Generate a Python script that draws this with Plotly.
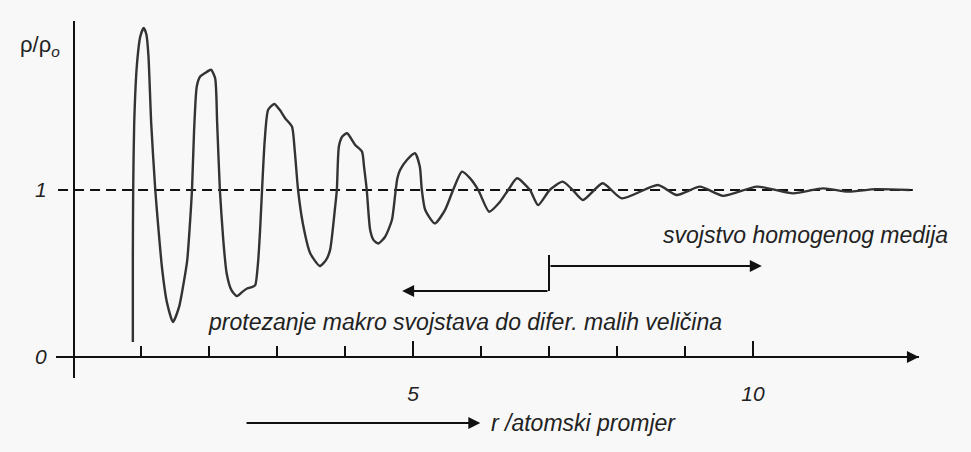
import plotly.graph_objects as go

# density profile rho/rho0 versus r (atomic diameters)
r_vals = [0.88, 0.88, 0.885, 0.90, 0.94, 0.99, 1.04, 1.08, 1.11, 1.15, 1.21,
          1.26, 1.31, 1.38, 1.47, 1.56, 1.63, 1.68, 1.72, 1.75, 1.78, 1.82,
          1.87, 1.94, 2.03, 2.09, 2.12, 2.16, 2.21, 2.26, 2.33, 2.41, 2.49,
          2.56, 2.64, 2.68, 2.72, 2.75, 2.78, 2.82, 2.87, 2.96, 3.04, 3.12,
          3.22, 3.26, 3.31, 3.38, 3.49, 3.63, 3.72, 3.78, 3.85, 3.88, 3.91,
          3.96, 4.03, 4.15, 4.25, 4.28, 4.32, 4.37, 4.42, 4.49, 4.59, 4.69,
          4.74, 4.77, 4.81, 4.91, 5.03, 5.10, 5.13, 5.18, 5.32, 5.47, 5.59,
          5.72, 5.84, 5.96, 6.12, 6.28, 6.40, 6.53, 6.72, 6.84, 7.01, 7.20,
          7.35, 7.50, 7.79, 8.07, 8.60, 8.88, 9.22, 9.56, 10.06, 10.59,
          11.03, 11.40, 11.80, 12.30]
rho_vals = [0.09, 0.60, 1.00, 1.40, 1.75, 1.92, 1.97, 1.93, 1.80, 1.40, 1.00,
            0.75, 0.53, 0.33, 0.21, 0.30, 0.45, 0.58, 0.80, 1.00, 1.35, 1.62,
            1.68, 1.70, 1.72, 1.67, 1.40, 1.00, 0.70, 0.50, 0.40, 0.365, 0.39,
            0.41, 0.42, 0.43, 0.56, 0.75, 1.00, 1.30, 1.48, 1.515, 1.48, 1.43,
            1.38, 1.24, 1.00, 0.80, 0.62, 0.545, 0.58, 0.64, 0.88, 1.00, 1.26,
            1.32, 1.34, 1.27, 1.23, 1.14, 1.00, 0.76, 0.70, 0.68, 0.72, 0.82,
            0.98, 1.07, 1.12, 1.18, 1.22, 1.14, 1.00, 0.88, 0.80, 0.88, 1.00,
            1.11, 1.07, 1.00, 0.87, 0.93, 1.00, 1.07, 1.00, 0.91, 1.00, 1.05,
            1.00, 0.94, 1.04, 0.95, 1.03, 0.97, 1.02, 0.965, 1.02, 0.98,
            1.01, 0.99, 1.005, 1.00]

# homogeneous-medium reference level
ref_x = [-0.22, 12.35]
ref_y = [1, 1]

x_major = [5, 10]
x_major_text = ["5", "10"]
x_minor = [1, 2, 3, 4, 5, 6, 7, 8, 9, 10]
y_ticks = [0, 1]
y_tick_text = ["0", "1"]

W, H = 971, 452
INK = "#111111"
FONT = "Liberation Sans, Arial, sans-serif"

fig = go.Figure()
fig.add_trace(go.Scatter(x=ref_x, y=ref_y, mode="lines",
                         line=dict(color=INK, width=2, dash="10px,6px"),
                         hoverinfo="skip"))
fig.add_trace(go.Scatter(x=r_vals, y=rho_vals, mode="lines",
                         line=dict(color="#333333", width=2.4, shape="spline", smoothing=0.6),
                         hoverinfo="skip"))

txt = dict(family=FONT, size=23, color="#222222", style="italic")
tick_txt = dict(family=FONT, size=21, color="#222222", style="italic")
arrow = dict(showarrow=True, arrowhead=2, arrowsize=1.2, arrowwidth=2,
             arrowcolor=INK, text="")

annotations = [
    # axis arrowheads
    dict(x=0, y=2.012, xref="x", yref="y", ax=0, ay=14, **arrow),
    dict(x=12.44, y=0, xref="x", yref="y", ax=-14, ay=0, **arrow),
    # bracket arrows
    dict(x=10.13, y=0.545, xref="x", yref="y", ax=7.0, axref="x", ay=0, **arrow),
    dict(x=4.84, y=0.395, xref="x", yref="y", ax=7.0, axref="x", ay=0, **arrow),
    # r arrow under the axis
    dict(x=5.99, y=(H - 423) / H, xref="x", yref="paper", ax=2.53, axref="x", ay=0, **arrow),
    dict(x=6.12, y=(H - 423) / H, xref="x", yref="paper", xanchor="left", yanchor="middle",
         text="r /atomski promjer", showarrow=False, font=txt),
    dict(x=8.64, y=0.73, xref="x", yref="y", xanchor="left", yanchor="middle",
         text="svojstvo homogenog medija", showarrow=False, font=txt),
    dict(x=1.95, y=0.21, xref="x", yref="y", xanchor="left", yanchor="middle",
         text="protezanje makro svojstava do difer. malih veličina", showarrow=False, font=txt),
    dict(x=40 / W, y=(H - 46) / H, xref="paper", yref="paper", xanchor="center", yanchor="middle",
         text="ρ/ρ<sub><i>o</i></sub>", showarrow=False,
         font=dict(family=FONT, size=22, color="#222222")),
]

fig.update_layout(
    width=W, height=H,
    margin=dict(l=0, r=0, t=0, b=0),
    paper_bgcolor="#f8f8f8",
    plot_bgcolor="#f8f8f8",
    showlegend=False,
    annotations=annotations,
    shapes=[dict(type="line", xref="x", yref="y", x0=7.0, x1=7.0, y0=0.395, y1=0.611,
                 line=dict(color=INK, width=2))],
    xaxis=dict(
        domain=[56 / W, 919 / W], range=[(56 - 73) / 68, (919 - 73) / 68],
        anchor="free", position=(H - 357) / H,
        showline=True, linecolor=INK, linewidth=2,
        showgrid=False, zeroline=False,
        tickvals=x_major, ticktext=x_major_text,
        ticks="inside", ticklen=15, tickwidth=1.5, tickcolor=INK,
        minor=dict(tickvals=x_minor, ticks="inside", ticklen=10, tickwidth=1.5, tickcolor=INK),
        tickfont=tick_txt, ticklabelstandoff=18,
    ),
    yaxis=dict(
        domain=[(H - 378) / H, (H - 21) / H], range=[(357 - 378) / 167, (357 - 21) / 167],
        anchor="free", position=74 / W,
        showline=True, linecolor=INK, linewidth=2,
        showgrid=False, zeroline=False,
        tickvals=y_ticks, ticktext=y_tick_text, ticks="",
        tickfont=tick_txt, ticklabelstandoff=22,
    ),
)

# drop the default page margin so the figure sits at the window's corner
fig.write_html("out.html", config={"displayModeBar": False},
               post_script="document.body.style.margin='0px';")
